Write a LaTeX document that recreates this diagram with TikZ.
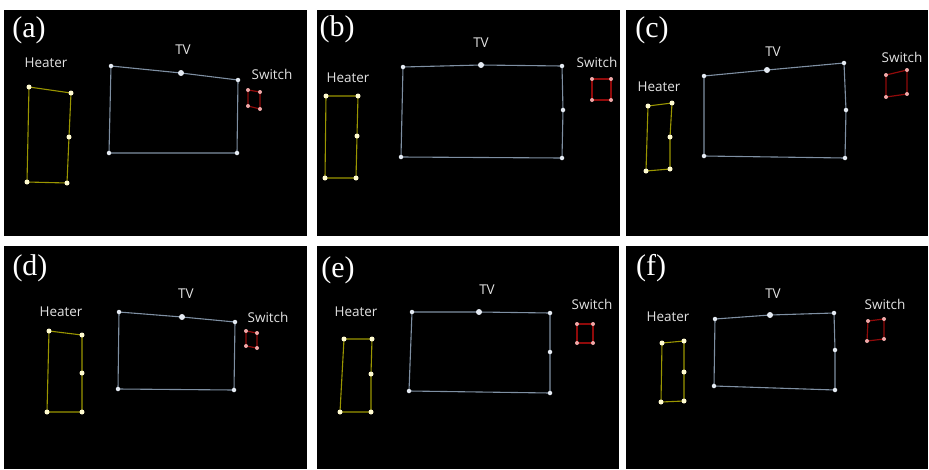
\documentclass[tikz,border=0pt]{standalone}
\usepackage{fontspec}
\setmainfont{Liberation Serif}
\newfontfamily\labelfont{Open Sans}
\definecolor{heaterline}{HTML}{9A9600}
\definecolor{heaterdot}{HTML}{FFFBD0}
\definecolor{tvline}{HTML}{7E8FA2}
\definecolor{tvdot}{HTML}{E4EAF2}
\definecolor{switchline}{HTML}{900A0A}
\definecolor{switchdot}{HTML}{F0A8A8}
\definecolor{captext}{HTML}{E2E2E2}
\tikzset{
  panelbg/.style={fill=black},
  tag/.style={text=white,font=\fontsize{30}{30}\selectfont,inner sep=0pt},
  caption/.style={text=captext,font=\labelfont\fontsize{13.5}{13.5}\selectfont,inner sep=0pt},
  hline/.style={draw=heaterline,line width=1.1pt},
  tline/.style={draw=tvline,line width=1.1pt},
  sline/.style={draw=switchline,line width=1.2pt},
  hdot/.style={circle,fill=heaterdot,inner sep=0pt,minimum size=5pt},
  tdot/.style={circle,fill=tvdot,inner sep=0pt,minimum size=4.5pt},
  tbig/.style={circle,fill=tvdot,inner sep=0pt,minimum size=6pt},
  sdot/.style={circle,fill=switchdot,inner sep=0pt,minimum size=4pt},
}
% heater outline: prefix, top-left, top-right, mid-right, bottom-right, bottom-left
\newcommand\heaterpoly[6]{%
  \coordinate (#1h1) at #2; \coordinate (#1h2) at #3; \coordinate (#1h3) at #4;
  \coordinate (#1h4) at #5; \coordinate (#1h5) at #6;
  \draw[hline] (#1h1) -- (#1h2) -- (#1h3) -- (#1h4) -- (#1h5) -- cycle;
  \foreach \k in {1,...,5} \node[hdot] (#1hd\k) at (#1h\k) {};
}
% screen outline with a top midpoint: prefix, top-left, top-mid, top-right, bottom-right, bottom-left
\newcommand\tvfive[6]{%
  \coordinate (#1t1) at #2; \coordinate (#1t2) at #3; \coordinate (#1t3) at #4;
  \coordinate (#1t4) at #5; \coordinate (#1t5) at #6;
  \draw[tline] (#1t1) -- (#1t2) -- (#1t3) -- (#1t4) -- (#1t5) -- cycle;
  \foreach \k in {1,3,4,5} \node[tdot] (#1td\k) at (#1t\k) {};
  \node[tbig] (#1td2) at (#1t2) {};
}
% screen outline with top and right midpoints:
% prefix, top-left, top-mid, top-right, mid-right, bottom-right, bottom-left
\newcommand\tvsix[7]{%
  \coordinate (#1t1) at #2; \coordinate (#1t2) at #3; \coordinate (#1t3) at #4;
  \coordinate (#1t4) at #5; \coordinate (#1t5) at #6; \coordinate (#1t6) at #7;
  \draw[tline] (#1t1) -- (#1t2) -- (#1t3) -- (#1t4) -- (#1t5) -- (#1t6) -- cycle;
  \foreach \k in {1,3,4,5,6} \node[tdot] (#1td\k) at (#1t\k) {};
  \node[tbig] (#1td2) at (#1t2) {};
}
% switch outline: prefix, four corners
\newcommand\switchpoly[5]{%
  \coordinate (#1s1) at #2; \coordinate (#1s2) at #3;
  \coordinate (#1s3) at #4; \coordinate (#1s4) at #5;
  \draw[sline] (#1s1) -- (#1s2) -- (#1s3) -- (#1s4) -- cycle;
  \foreach \k in {1,...,4} \node[sdot] (#1sd\k) at (#1s\k) {};
}
\begin{document}
\begin{tikzpicture}[x=1pt,y=-1pt]
\useasboundingbox (0,0) rectangle (929,469);
\fill[white] (0,0) rectangle (929,469);

% panel backgrounds
\fill[panelbg] (4,10) rectangle (307,236);
\fill[panelbg] (317,10) rectangle (620,236);
\fill[panelbg] (626,10) rectangle (928,236);
\fill[panelbg] (4,246) rectangle (307,469);
\fill[panelbg] (317,246) rectangle (619,469);
\fill[panelbg] (626,246) rectangle (928,469);

% (a)
\node[tag] (tagA) at (29,30) {(a)};
\node[caption] (heatA) at (46,63) {Heater};
\node[caption] (tvA) at (183,50) {TV};
\node[caption] (swA) at (272,74) {Switch};
\heaterpoly{a}{(29,87)}{(71,93)}{(69,137)}{(67,183)}{(27,182)}
\tvfive{a}{(111,66)}{(181,73)}{(238,80)}{(237,153)}{(109,153)}
\switchpoly{a}{(248,90)}{(260,92)}{(260,109)}{(248,106)}

% (b)
\node[tag] (tagB) at (337,29) {(b)};
\node[caption] (heatB) at (348,78) {Heater};
\node[caption] (tvB) at (481,43) {TV};
\node[caption] (swB) at (597,62) {Switch};
\heaterpoly{b}{(326,96)}{(358,96)}{(357,136)}{(356,178)}{(325,178)}
\tvsix{b}{(403,67)}{(481,65)}{(562,66)}{(563,110)}{(562,158)}{(401,157)}
\switchpoly{b}{(592,79)}{(611,79)}{(611,100)}{(592,100)}

% (c)
\node[tag] (tagC) at (652,30) {(c)};
\node[caption] (heatC) at (659,87) {Heater};
\node[caption] (tvC) at (773,52) {TV};
\node[caption] (swC) at (902,57) {Switch};
\heaterpoly{c}{(648,106)}{(672,103)}{(670,137)}{(670,169)}{(646,171)}
\tvsix{c}{(704,76)}{(767,70)}{(844,63)}{(846,110)}{(845,158)}{(704,156)}
\switchpoly{c}{(886,75)}{(907,70)}{(907,94)}{(886,97)}

% (d)
\node[tag] (tagD) at (30,268) {(d)};
\node[caption] (heatD) at (61,312) {Heater};
\node[caption] (tvD) at (186,294) {TV};
\node[caption] (swD) at (268,317) {Switch};
\heaterpoly{d}{(49,331)}{(82,335)}{(82,373)}{(82,412)}{(47,412)}
\tvfive{d}{(119,312)}{(182,317)}{(235,322)}{(234,390)}{(118,389)}
\switchpoly{d}{(246,331)}{(257,333)}{(257,348)}{(246,346)}

% (e)
\node[tag] (tagE) at (338,270) {(e)};
\node[caption] (heatE) at (356,312) {Heater};
\node[caption] (tvE) at (487,290) {TV};
\node[caption] (swE) at (592,304) {Switch};
\heaterpoly{e}{(344,339)}{(372,339)}{(371,374)}{(371,412)}{(340,412)}
\tvsix{e}{(412,312)}{(479,312)}{(550,313)}{(550,352)}{(550,393)}{(409,391)}
\switchpoly{e}{(577,324)}{(593,324)}{(593,343)}{(577,343)}

% (f)
\node[tag] (tagF) at (651,268) {(f)};
\node[caption] (heatF) at (668,317) {Heater};
\node[caption] (tvF) at (773,294) {TV};
\node[caption] (swF) at (885,304) {Switch};
\heaterpoly{f}{(662,343)}{(684,341)}{(684,372)}{(684,401)}{(661,402)}
\tvsix{f}{(715,319)}{(770,315)}{(834,313)}{(835,350)}{(835,390)}{(714,386)}
\switchpoly{f}{(868,321)}{(884,319)}{(884,339)}{(867,341)}
\end{tikzpicture}
\end{document}
